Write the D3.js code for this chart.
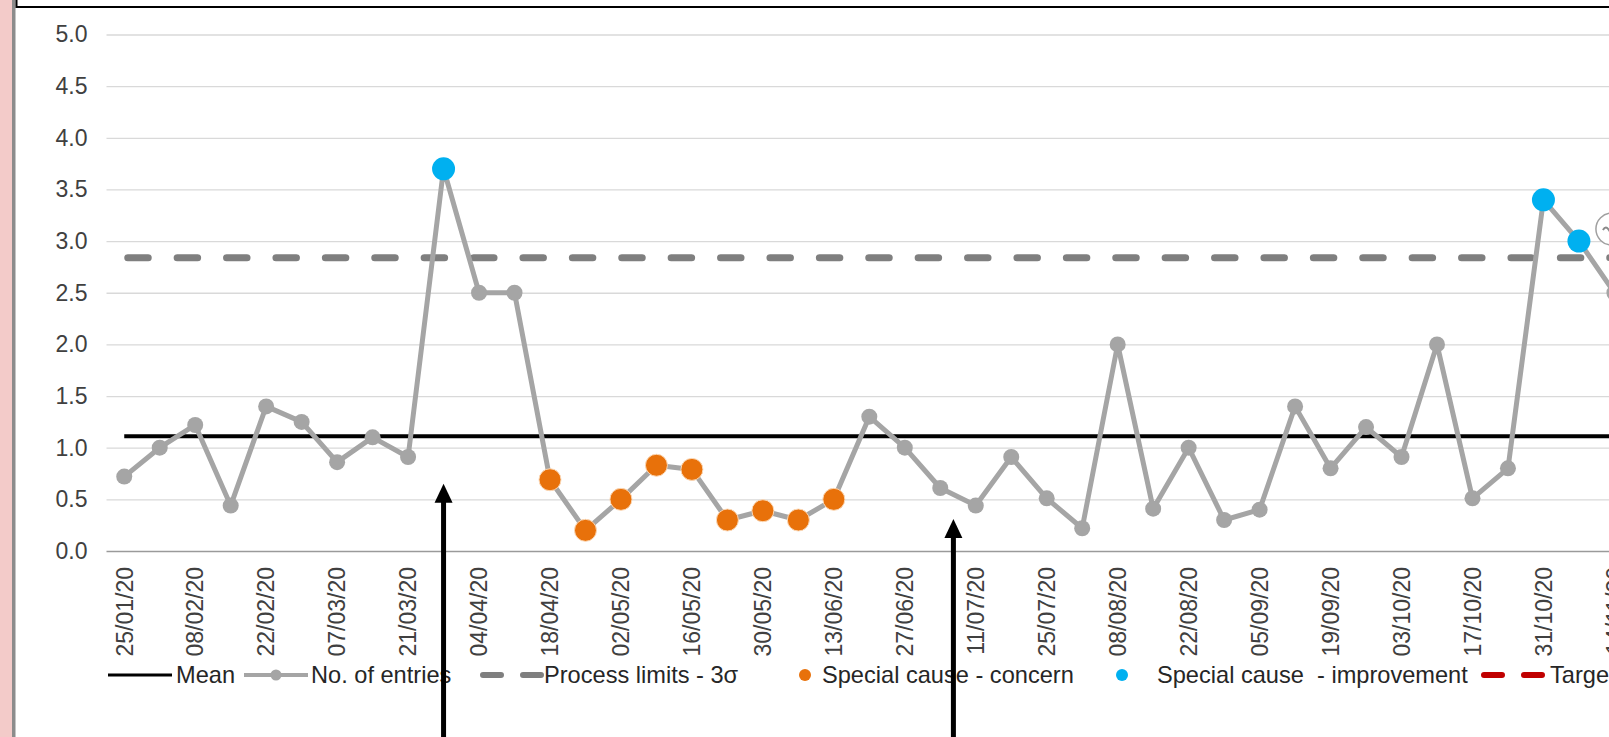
<!DOCTYPE html>
<html><head><meta charset="utf-8">
<script src="https://cdn.jsdelivr.net/npm/d3@7"></script>
<style>
html,body{margin:0;padding:0;background:#fff;overflow:hidden}
svg{display:block;font-family:"Liberation Sans",Arial,sans-serif}
</style></head><body>
<svg id="c" width="1609" height="737"></svg>
<script>
// ---- data ----
const weeks = ["25/01/20","01/02/20","08/02/20","15/02/20","22/02/20","29/02/20","07/03/20","14/03/20","21/03/20","28/03/20",
  "04/04/20","11/04/20","18/04/20","25/04/20","02/05/20","09/05/20","16/05/20","23/05/20","30/05/20","06/06/20",
  "13/06/20","20/06/20","27/06/20","04/07/20","11/07/20","18/07/20","25/07/20","01/08/20","08/08/20","15/08/20",
  "22/08/20","29/08/20","05/09/20","12/09/20","19/09/20","26/09/20","03/10/20","10/10/20","17/10/20","24/10/20",
  "31/10/20","07/11/20","14/11/20"];
const entries = [0.72,1.0,1.22,0.44,1.4,1.25,0.86,1.1,0.91,3.7,
  2.5,2.5,0.69,0.2,0.5,0.83,0.79,0.3,0.39,0.3,
  0.5,1.3,1.0,0.61,0.44,0.91,0.51,0.22,2.0,0.41,
  1.0,0.3,0.4,1.4,0.8,1.2,0.91,2.0,0.51,0.8,
  3.4,3.0,2.5];
const concernWeeks = ["18/04/20","25/04/20","02/05/20","09/05/20","16/05/20","23/05/20","30/05/20","06/06/20","13/06/20"];
const improvementWeeks = ["28/03/20","31/10/20","07/11/20"];
const meanValue = [1.11];
const processLimit = [2.84];
const tickLabels = ["25/01/20","08/02/20","22/02/20","07/03/20","21/03/20","04/04/20","18/04/20","02/05/20","16/05/20",
  "30/05/20","13/06/20","27/06/20","11/07/20","25/07/20","08/08/20","22/08/20","05/09/20","19/09/20","03/10/20",
  "17/10/20","31/10/20","14/11/20"];
const yTicks = [0,0.5,1,1.5,2,2.5,3,3.5,4,4.5,5];
const arrowNotes = [{week:"28/03/20", shift:0, tip:0.65},{week:"04/07/20", shift:0.37, tip:0.31}];

// ---- setup ----
const svg = d3.select("#c");
const W = 1609, H = 737;
const step = 35.48, x0 = 106.5;
const x = d3.scaleBand().domain(weeks).range([x0, x0 + weeks.length*step]).padding(0);
const cx = d => x(d) + x.bandwidth()/2;
const y = d3.scaleLinear().domain([0,5]).range([551, 34.5]);
const txt = "#404040";

// left decoration & top frame
svg.append("rect").attr("x",0).attr("y",0).attr("width",12).attr("height",H).attr("fill","#f3cbc9");
svg.append("rect").attr("x",12).attr("y",0).attr("width",3.5).attr("height",H).attr("fill","#8c8c8c");
svg.append("path").attr("d",`M16.5,-3V7H${W+5}`).attr("fill","none").attr("stroke","#000").attr("stroke-width",2);

// y axis + gridlines
const yAxis = d3.axisLeft(y).tickValues(yTicks).tickFormat(d3.format(".1f")).tickSize(-(W - x0 + 10)).tickPadding(19);
const gy = svg.append("g").attr("transform",`translate(${x0},0)`).call(yAxis);
gy.select(".domain").remove();
gy.selectAll(".tick line").attr("stroke", d => d === 0 ? "#9a9a9a" : "#d9d9d9").attr("stroke-width", d => d===0?1.6:1.3);
gy.selectAll(".tick text").attr("fill",txt).style("font-size","23px").style("font-family","Liberation Sans, Arial, sans-serif");

// x axis labels
const xAxis = d3.axisBottom(x).tickValues(tickLabels).tickSize(0).tickPadding(0);
const gx = svg.append("g").attr("transform",`translate(0,${y(0)})`).call(xAxis);
gx.select(".domain").remove();
gx.selectAll(".tick text")
  .attr("fill",txt).style("font-size","23px").style("font-family","Liberation Sans, Arial, sans-serif")
  .attr("text-anchor","end").attr("transform","rotate(-90)")
  .attr("x",-16).attr("y",0).attr("dy","0.36em");

// mean line
const xStart = cx(weeks[0]), xEnd = x0 + weeks.length*step + 20;
svg.append("line").attr("x1",xStart).attr("x2",xEnd).attr("y1",y(meanValue[0])).attr("y2",y(meanValue[0]))
  .attr("stroke","#000").attr("stroke-width",4);
// process limit
svg.append("line").attr("x1",xStart+3.5).attr("x2",xEnd).attr("y1",y(processLimit[0])).attr("y2",y(processLimit[0]))
  .attr("stroke","#7f7f7f").attr("stroke-width",7).attr("stroke-linecap","round").attr("stroke-dasharray","20.5 28.9");

// series line
const line = d3.line().x((d,i)=>cx(weeks[i])).y(d=>y(d));
svg.append("path").datum(entries).attr("d",line).attr("fill","none").attr("stroke","#a5a5a5").attr("stroke-width",5).attr("stroke-linejoin","round");
svg.append("g").selectAll("circle").data(entries).join("circle")
  .attr("cx",(d,i)=>cx(weeks[i])).attr("cy",d=>y(d)).attr("r",8).attr("fill","#a5a5a5");

// special causes
const valOf = w => entries[weeks.indexOf(w)];
svg.append("g").selectAll("circle").data(concernWeeks).join("circle")
  .attr("cx",d=>cx(d)).attr("cy",d=>y(valOf(d))).attr("r",11).attr("fill","#e8710a").attr("stroke","#fbd9b8").attr("stroke-width",1);
svg.append("g").selectAll("circle").data(improvementWeeks).join("circle")
  .attr("cx",d=>cx(d)).attr("cy",d=>y(valOf(d))).attr("r",11.5).attr("fill","#00b0f0");

// small circled icon at the right edge
const ic = svg.append("g").attr("transform",`translate(${cx("07/11/20")+33},${y(valOf("07/11/20"))-12})`);
ic.append("circle").attr("r",16).attr("fill","#fff").attr("stroke","#a0a0a0").attr("stroke-width",1.5);
ic.append("path").attr("d","M-9,1 q3,-5 6,0 t6,0").attr("fill","none").attr("stroke","#8a8a8a").attr("stroke-width",2);

// legend
const ly = 675;
const lg = svg.append("g").style("font-size","23.6px");
const ltext = (xp, s) => lg.append("text").attr("x",xp).attr("y",ly).attr("dy","0.35em").attr("fill","#262626").style("white-space","pre").text(s);
lg.append("line").attr("x1",108).attr("x2",172).attr("y1",ly).attr("y2",ly).attr("stroke","#000").attr("stroke-width",3);
ltext(176, "Mean");
lg.append("line").attr("x1",244).attr("x2",308).attr("y1",ly).attr("y2",ly).attr("stroke","#a5a5a5").attr("stroke-width",4);
lg.append("circle").attr("cx",276).attr("cy",ly).attr("r",5.5).attr("fill","#a5a5a5");
ltext(311, "No. of entries");
lg.append("line").attr("x1",483).attr("x2",541).attr("y1",ly).attr("y2",ly).attr("stroke","#7f7f7f").attr("stroke-width",6)
  .attr("stroke-linecap","round").attr("stroke-dasharray","18 22");
ltext(544, "Process limits - 3\u03c3");
lg.append("circle").attr("cx",805).attr("cy",ly).attr("r",6).attr("fill","#e8710a");
ltext(822, "Special cause - concern");
lg.append("circle").attr("cx",1122).attr("cy",ly).attr("r",6).attr("fill","#00b0f0");
ltext(1157, "Special cause  - improvement");
lg.append("line").attr("x1",1484).attr("x2",1545).attr("y1",ly).attr("y2",ly).attr("stroke","#c00000").attr("stroke-width",6)
  .attr("stroke-linecap","round").attr("stroke-dasharray","18 22");
ltext(1550, "Target");

// arrows (on top of legend text, as in the reference)
const ag = svg.append("g");
arrowNotes.forEach(a => {
  const ax = cx(a.week) + a.shift*step;
  const ty = y(a.tip);
  ag.append("line").attr("x1",ax).attr("x2",ax).attr("y1",ty+14).attr("y2",H+5).attr("stroke","#000").attr("stroke-width",5);
  ag.append("path").attr("d",`M${ax},${ty} L${ax-9},${ty+19} L${ax+9},${ty+19} Z`).attr("fill","#000");
});
</script>
</body></html>
